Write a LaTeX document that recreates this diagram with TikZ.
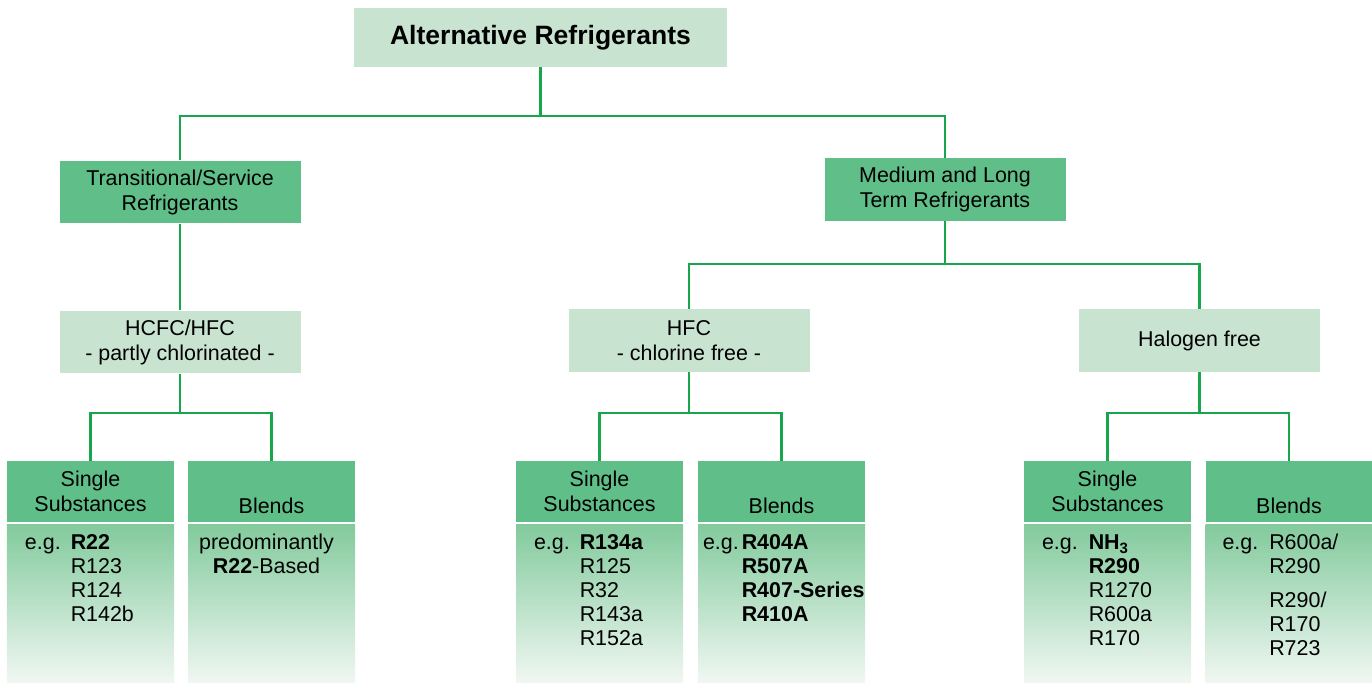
\documentclass[tikz,border=0pt]{standalone}
\usepackage{fontspec}
\setmainfont{Liberation Sans}
\usetikzlibrary{positioning}
\definecolor{paleGreen}{HTML}{C8E4D0}
\definecolor{midGreen}{HTML}{60BF88}
\definecolor{lineGreen}{HTML}{17A64C}
\definecolor{fadeTop}{HTML}{82CA9C}
\definecolor{fadeBot}{HTML}{F0F7F2}
\tikzset{
  txt/.style={font=\fontsize{12.2}{14.2}\selectfont, align=center, inner sep=0pt},
  lightbox/.style={txt, fill=paleGreen, minimum width=4.82cm, minimum height=1.25cm},
  darkbox/.style={txt, fill=midGreen, minimum width=4.82cm, minimum height=1.25cm},
  headbox/.style={txt, fill=midGreen, minimum width=3.34cm, minimum height=1.22cm},
  blendhead/.style={headbox, text height=0.86cm, text depth=0cm},
  bodybox/.style={top color=fadeTop, bottom color=fadeBot, minimum width=3.34cm, minimum height=3.16cm, inner sep=0pt},
  list/.style={font=\fontsize{12.2}{13.6}\selectfont, inner sep=0pt, align=left},
  link/.style={lineGreen, line width=1.2pt}
}

\begin{document}
\begin{tikzpicture}
\useasboundingbox (0,0) rectangle (27.44,13.64);
% upper levels
\node[txt, fill=paleGreen, minimum width=7.46cm, minimum height=1.18cm, font=\fontsize{15.1}{18}\selectfont\bfseries] (alt) at (10.81,12.89) {Alternative Refrigerants};
\node[darkbox] (trans) at (3.60,9.80) {Transitional/Service\\Refrigerants};
\node[darkbox] (medium) at (18.90,9.85) {Medium and Long\\Term Refrigerants};
\node[lightbox] (hcfc) at (3.60,6.80) {HCFC/HFC\\- partly chlorinated -};
\node[lightbox] (hfc) at (13.78,6.83) {HFC\\- chlorine free -};
\node[lightbox] (halogen) at (23.99,6.83) {Halogen free};

% columns
\node[headbox] (a1head) at (1.81,3.81) {Single\\Substances};
\node[blendhead] (a2head) at (5.43,3.81) {Blends};
\node[headbox] (b1head) at (11.99,3.81) {Single\\Substances};
\node[blendhead] (b2head) at (15.63,3.81) {Blends};
\node[headbox] (c1head) at (22.15,3.81) {Single\\Substances};
\node[blendhead] (c2head) at (25.78,3.81) {Blends};
\node[bodybox] (a1body) at (1.81,1.58) {};
\node[bodybox] (a2body) at (5.43,1.58) {};
\node[bodybox] (b1body) at (11.99,1.58) {};
\node[bodybox] (b2body) at (15.63,1.58) {};
\node[bodybox] (c1body) at (22.15,1.58) {};
\node[bodybox] (c2body) at (25.78,1.58) {};

% lists
\node[list, below right=0.185cm and 0.36cm of a1body.north west] (a1list)
  {\begin{tabular}[t]{@{}l@{\hspace{0.2cm}}l@{}}
   e.g. & \textbf{R22}\\ & R123\\ & R124\\ & R142b
   \end{tabular}};
\node[list, align=center, below=0.2cm of a2body.north, xshift=-0.1cm] (a2list)
  {predominantly\\\textbf{R22}-Based};
\node[list, below right=0.185cm and 0.36cm of b1body.north west] (b1list)
  {\begin{tabular}[t]{@{}l@{\hspace{0.2cm}}l@{}}
   e.g. & \textbf{R134a}\\ & R125\\ & R32\\ & R143a\\ & R152a
   \end{tabular}};
\node[list, below right=0.185cm and 0.1cm of b2body.north west] (b2list)
  {\begin{tabular}[t]{@{}l@{\hspace{0.06cm}}l@{}}
   e.g. & \textbf{R404A}\\ & \textbf{R507A}\\ & \textbf{R407-Series}\\ & \textbf{R410A}
   \end{tabular}};
\node[list, below right=0.185cm and 0.36cm of c1body.north west] (c1list)
  {\begin{tabular}[t]{@{}l@{\hspace{0.22cm}}l@{}}
   e.g. & \textbf{NH\textsubscript{3}}\\ & \textbf{R290}\\ & R1270\\ & R600a\\ & R170
   \end{tabular}};
\node[list, below right=0.185cm and 0.34cm of c2body.north west] (c2list)
  {\begin{tabular}[t]{@{}l@{\hspace{0.22cm}}l@{}}
   e.g. & R600a/\\ & R290\\[0.2cm] & R290/\\ & R170\\ & R723
   \end{tabular}};

% connectors
\coordinate (altbus) at (10.81,11.32);
\coordinate (mltbus) at (18.90,8.36);
\coordinate (hcfcbus) at (3.60,5.38);
\coordinate (hfcbus) at (13.78,5.38);
\coordinate (halbus) at (23.99,5.38);
\draw[link] (alt.south) -- (altbus);
\draw[link] (trans.north) |- (altbus) -| (medium.north);
\draw[link] (trans.south) -- (hcfc.north);
\draw[link] (medium.south) -- (mltbus);
\draw[link] (hfc.north) |- (mltbus) -| (halogen.north);
\draw[link] (hcfc.south) -- (hcfcbus);
\draw[link] (a1head.north) |- (hcfcbus) -| (a2head.north);
\draw[link] (hfc.south) -- (hfcbus);
\draw[link] (b1head.north) |- (hfcbus) -| (b2head.north);
\draw[link] (halogen.south) -- (halbus);
\draw[link] (c1head.north) |- (halbus) -| (c2head.north);
\end{tikzpicture}
\end{document}
